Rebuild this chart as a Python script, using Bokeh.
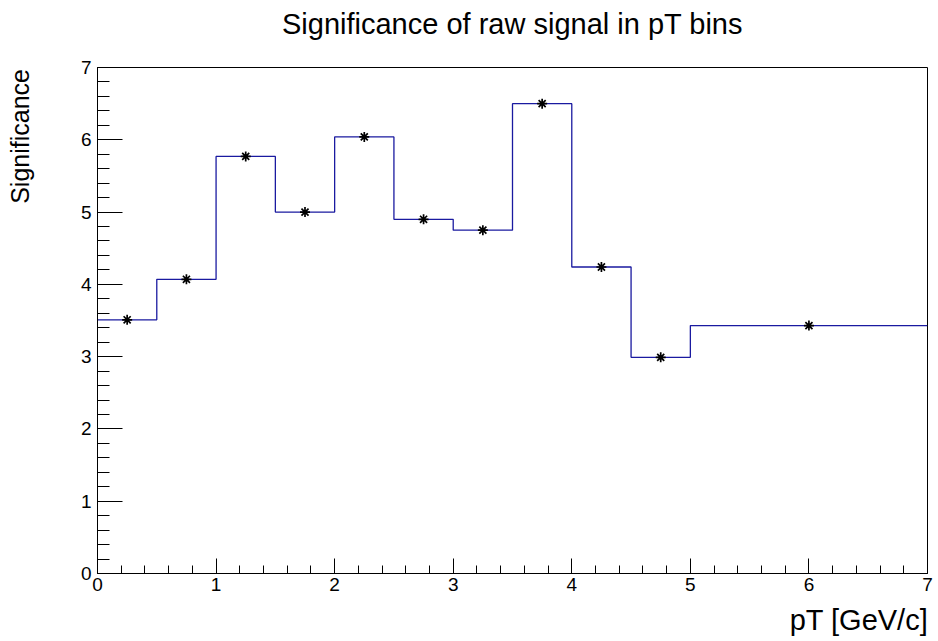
from bokeh.plotting import figure
from bokeh.models import (Range1d, SingleIntervalTicker, FixedTicker, LinearAxis,
                          ColumnDataSource)
from bokeh.embed import file_html
from bokeh.resources import INLINE

# Data
bin_edges = [0.0, 0.5, 1.0, 1.5, 2.0, 2.5, 3.0, 3.5, 4.0, 4.5, 5.0, 7.0]
significance = [3.51, 4.07, 5.77, 5.00, 6.04, 4.90, 4.75, 6.50, 4.24, 2.99, 3.43]
title_text = "Significance of raw signal in pT bins"
x_label = "pT [GeV/c]"
y_label = "Significance"

centers = [(bin_edges[i] + bin_edges[i + 1]) / 2 for i in range(len(significance))]
step_y = significance + [significance[-1]]

FONT = "Liberation Sans"
NBSP = "\u00a0"

p = figure(width=938, height=641, output_backend="svg", toolbar_location=None,
           x_range=Range1d(0, 7), y_range=Range1d(0, 7),
           min_border_left=97, min_border_right=11, min_border_top=67, min_border_bottom=68,
           background_fill_color="white", border_fill_color="white")
p.title = None
p.grid.visible = False
p.outline_line_color = "black"
p.outline_line_width = 1

# main axes: ticks and tick labels only
p.xaxis.ticker = SingleIntervalTicker(interval=1, num_minor_ticks=5)
p.yaxis.ticker = SingleIntervalTicker(interval=1, num_minor_ticks=5)
for ax in (p.xaxis[0], p.yaxis[0]):
    ax.axis_line_color = "black"
    ax.axis_line_width = 1
    ax.major_tick_line_color = "black"
    ax.minor_tick_line_color = "black"
    ax.major_tick_out = 0
    ax.minor_tick_out = 0
    ax.major_label_text_font = FONT
    ax.major_label_text_font_size = "19px"
    ax.major_label_text_color = "black"
p.xaxis.major_label_standoff = 4
p.yaxis.major_label_standoff = 6
p.xaxis.major_tick_in = 15
p.xaxis.minor_tick_in = 8
p.yaxis.major_tick_in = 25
p.yaxis.minor_tick_in = 12


def label_axis(text, size, standoff):
    return LinearAxis(ticker=FixedTicker(ticks=[]), axis_line_color=None,
                      major_tick_line_color=None, minor_tick_line_color=None,
                      major_tick_in=0, major_tick_out=0, minor_tick_in=0, minor_tick_out=0,
                      major_label_standoff=0,
                      axis_label=text, axis_label_standoff=standoff,
                      axis_label_text_font=FONT, axis_label_text_font_size=size,
                      axis_label_text_font_style="normal", axis_label_text_color="black")


# texts carried by tick-less axes around the frame; the axis titles are pushed
# to the far end of their axis (ROOT style) with leading non-breaking spaces
p.add_layout(label_axis(title_text, "29px", 28), "above")
p.add_layout(label_axis(NBSP * 86 + x_label, "29px", 10), "below")
p.add_layout(label_axis(NBSP * 53 + y_label, "25px", 44), "left")

p.step(x=bin_edges, y=step_y, mode="after", line_color="#1a1aa0", line_width=1.3)
src = ColumnDataSource(dict(x=centers, y=significance))
p.scatter("x", "y", source=src, marker="asterisk", size=10, line_color="black", line_width=1.7)

open("out.html", "w").write(file_html(p, INLINE))
